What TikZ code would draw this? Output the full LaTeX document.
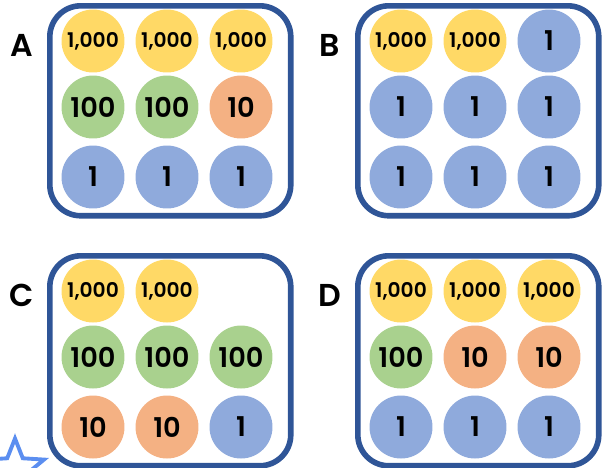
\documentclass[tikz,border=0pt]{standalone}
\usepackage{fontspec}
\setmainfont{Poppins}[BoldFont={Poppins SemiBold}]
\usepackage{tikz}
\usetikzlibrary{shapes,positioning,calc}
\definecolor{thouyellow}{HTML}{FFD966}
\definecolor{hundgreen}{HTML}{A9D18E}
\definecolor{tenorange}{HTML}{F4B183}
\definecolor{oneblue}{HTML}{8FAADC}
\definecolor{frameblue}{HTML}{2F5597}
\definecolor{starblue}{HTML}{5B8EF0}
\tikzset{
    coin/.style={circle, inner sep=0pt, minimum size=1.26cm, font=\bfseries\fontsize{15.5}{15.5}\selectfont},
    v1000/.style={coin, fill=thouyellow, font=\bfseries\fontsize{11.5}{11.5}\selectfont},
    v100/.style={coin, fill=hundgreen},
    v10/.style={coin, fill=tenorange},
    v1/.style={coin, fill=oneblue},
    frame/.style={draw=frameblue, line width=3.2pt, rounded corners=0.62cm, anchor=north west,
        minimum width=4.82cm, minimum height=4.2cm},
    tag/.style={font=\bfseries\fontsize{18}{18}\selectfont}
}
\newcommand{\coinlabel}[1]{\ifnum#1=1000 1,000\else#1\fi}

\begin{document}
\begin{tikzpicture}[x=0.02cm, y=-0.02cm]
    \useasboundingbox (0,0) rectangle (602,467);
    % four panels, 0 = empty slot
    \foreach \px/\py/\tag/\vals in {47/3/A/{1000,1000,1000,100,100,10,1,1,1},
                                  355/3/B/{1000,1000,1,1,1,1,1,1,1},
                                  47/253/C/{1000,1000,0,100,100,100,10,10,1},
                                  355/253/D/{1000,1000,1000,100,10,10,1,1,1}} {
        \node[frame] (fr\tag) at (\px,\py) {};
        \node[tag] (lab\tag) at ($(fr\tag.north west)+(-25,42)$) {\tag};
        \foreach \v [count=\i from 0] in \vals {
            \pgfmathtruncatemacro{\col}{mod(\i,3)}
            \pgfmathtruncatemacro{\row}{int(\i/3)}
            \pgfmathsetmacro{\dy}{{38,104,174}[\row]}
            \ifnum\v>0
                \node[v\v] (\tag-\i) at ($(fr\tag.north west)+(46+74*\col,\dy)$) {\coinlabel{\v}};
            \fi
        }
    }
    \node[star, star points=5, star point ratio=2.3, draw=starblue, line width=2.2pt,
        minimum size=1.22cm, inner sep=0pt] (star) at (15,469) {};
\end{tikzpicture}
\end{document}
